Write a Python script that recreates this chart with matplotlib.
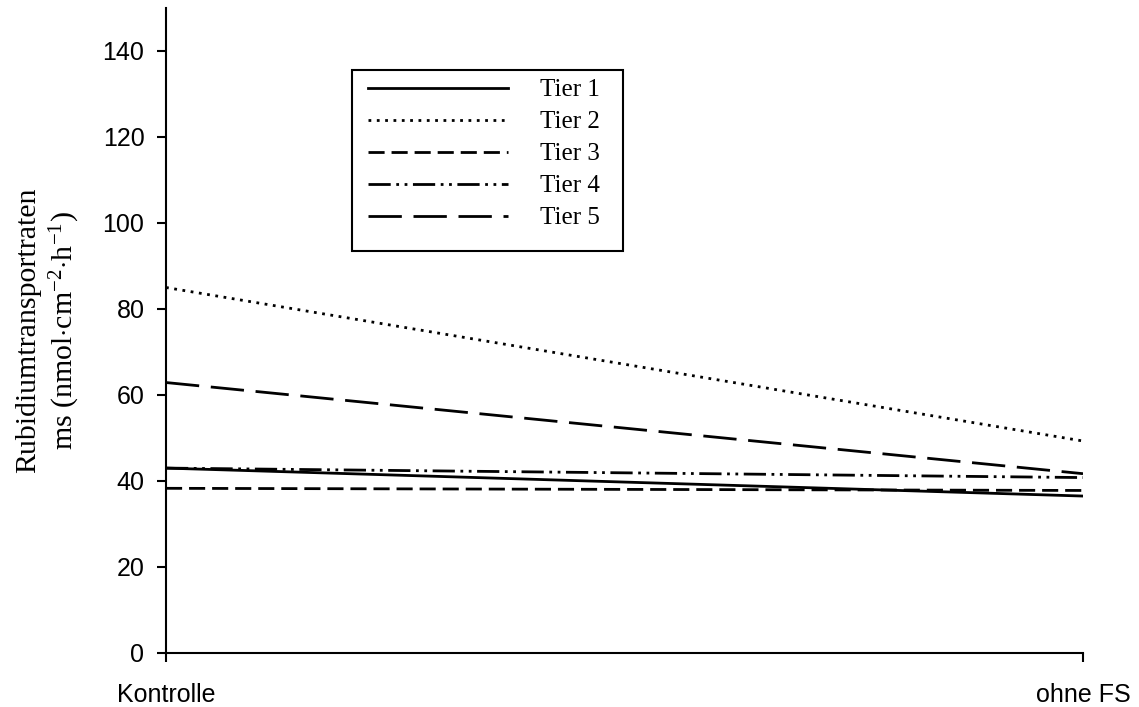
import matplotlib.pyplot as plt
from matplotlib.patches import Rectangle

plt.rcParams['mathtext.fontset'] = 'custom'
plt.rcParams['mathtext.rm'] = 'Liberation Serif'
plt.rcParams['mathtext.it'] = 'Liberation Serif:italic'

conditions = ['Kontrolle', 'ohne FS']
tiere = ['Tier 1', 'Tier 2', 'Tier 3', 'Tier 4', 'Tier 5']
tier1 = [43.0, 36.5]
tier2 = [85.0, 49.3]
tier3 = [38.3, 37.8]
tier4 = [43.0, 40.8]
tier5 = [62.9, 41.7]

werte = [tier1, tier2, tier3, tier4, tier5]
stile = ['-', (0, (1, 2)), (0, (5.8, 2.5)), (0, (8, 2, 1, 2, 1, 2)), (0, (12, 4.2))]

W, H = 1139, 707
fig = plt.figure(figsize=(W / 100, H / 100), dpi=100)
ax = fig.add_axes([166 / W, 54 / H, (1083 - 166) / W, (653 - 8) / H])

x = list(range(len(conditions)))
for name, y, ls in zip(tiere, werte, stile):
    ax.plot(x, y, color='black', linestyle=ls, linewidth=2.0, label=name)

ax.set_xlim(0, 1)
ax.set_ylim(0, 150)
ax.set_yticks(range(0, 141, 20))
ax.set_xticks(x)
ax.set_xticklabels(conditions)
for side in ['top', 'right']:
    ax.spines[side].set_visible(False)
for side in ['left', 'bottom']:
    ax.spines[side].set_linewidth(1.5)
ax.tick_params(direction='out', length=6.5, width=1.5, labelsize=18)
ax.tick_params(axis='y', pad=9)
ax.tick_params(axis='x', pad=15)
for lab in ax.get_xticklabels() + ax.get_yticklabels():
    lab.set_family('Liberation Sans')

ax.set_ylabel(r'Rubidiumtransportraten' '\n' r'ms (nmol$\cdot$cm$^{-2}$$\cdot$h$^{-1}$)',
              family='Liberation Serif', fontsize=21.5, linespacing=1.25)
ax.yaxis.set_label_coords((82 - 166) / 917, 0.5)

# Legende ohne eigenen Rahmen, Rahmen separat
leg = ax.legend(loc='upper left', bbox_to_anchor=(368 / W, 1 - 79 / H),
                bbox_transform=fig.transFigure, borderaxespad=0, borderpad=0,
                prop={'family': 'Liberation Serif', 'size': 18},
                handlelength=5.6, handletextpad=1.28, labelspacing=0.38,
                frameon=False)
fig.patches.append(Rectangle((352 / W, 1 - 251 / H), (623 - 352) / W, (251 - 70) / H,
                             transform=fig.transFigure, fill=False,
                             edgecolor='black', linewidth=1.5))

fig.savefig('out.png', dpi=100)
